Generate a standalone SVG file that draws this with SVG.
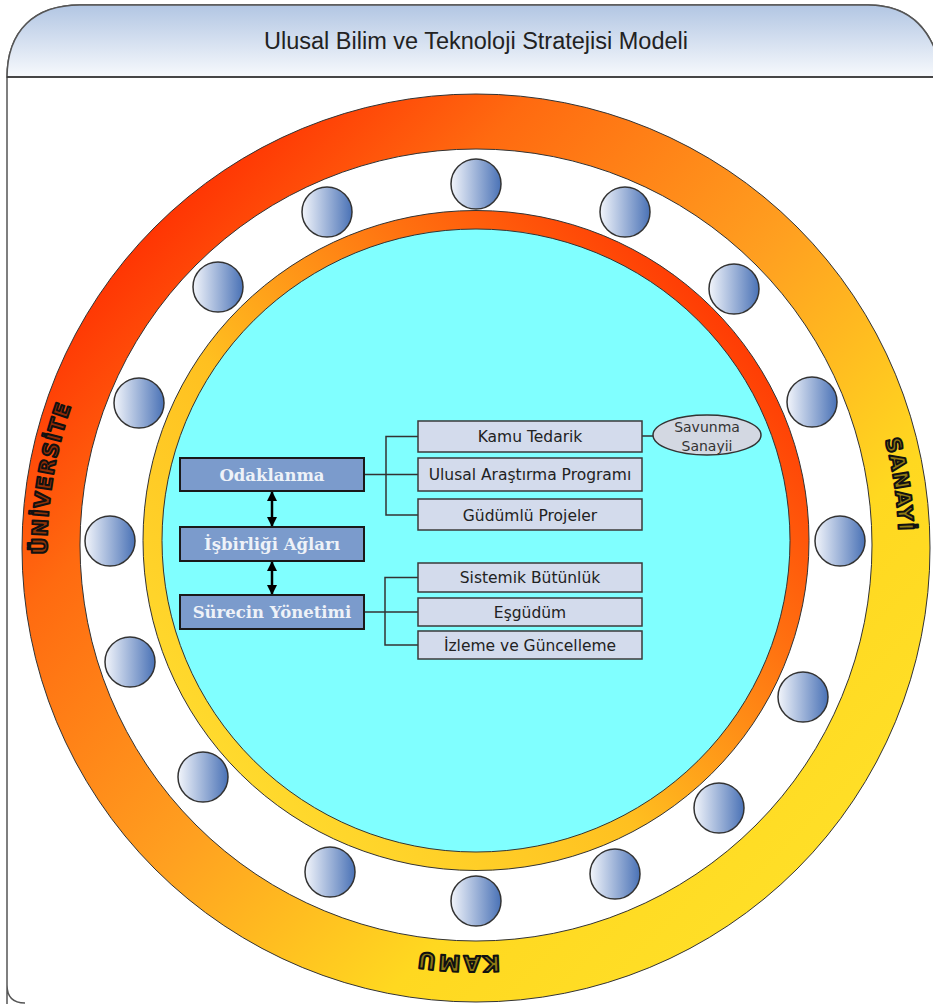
<svg xmlns="http://www.w3.org/2000/svg" width="933" height="1004" viewBox="0 0 933 1004">
<defs>
<linearGradient id="hdrG" x1="0" y1="0" x2="0" y2="1">
<stop offset="0" stop-color="#b2c6e3"/>
<stop offset="1" stop-color="#f8fafd"/>
</linearGradient>
<linearGradient id="outerG" gradientUnits="userSpaceOnUse" x1="120" y1="200" x2="830" y2="900">
<stop offset="0" stop-color="#ff2800"/>
<stop offset="0.22" stop-color="#ff6a10"/>
<stop offset="0.5" stop-color="#ffa020"/>
<stop offset="0.75" stop-color="#ffd820"/>
<stop offset="1" stop-color="#ffe028"/>
</linearGradient>
<linearGradient id="innerG" gradientUnits="userSpaceOnUse" x1="780" y1="290" x2="200" y2="820">
<stop offset="0" stop-color="#ff2a00"/>
<stop offset="0.3" stop-color="#ff7010"/>
<stop offset="0.6" stop-color="#ffc020"/>
<stop offset="1" stop-color="#ffe030"/>
</linearGradient>
<linearGradient id="ballG" x1="0" y1="0" x2="1" y2="0">
<stop offset="0" stop-color="#f2f5fb"/>
<stop offset="1" stop-color="#4a72b6"/>
</linearGradient>
<marker id="ah" viewBox="0 0 10 10" refX="9" refY="5" markerWidth="10" markerHeight="10" markerUnits="userSpaceOnUse" orient="auto-start-reverse">
<path d="M0,0 L10,5 L0,10 Z" fill="#000"/>
</marker>
<path id="pLeft" d="M47,548 A429,429 0 1,1 905,548 A429,429 0 1,1 47,548"/>
<path id="pRight" d="M53,548 A423,423 0 1,1 899,548 A423,423 0 1,1 53,548"/>
<path id="pBottom" d="M68,548 A408,408 0 1,1 884,548 A408,408 0 1,1 68,548"/>
</defs>
<style>
.frame{fill:#fff;stroke:#555;stroke-width:1.5}
.title{font-family:"Liberation Sans",Arial,sans-serif;font-size:23.5px;fill:#222;text-anchor:middle}
.ring{stroke:#333;stroke-width:1}
.ball{fill:url(#ballG);stroke:#333;stroke-width:1.5}
.ringtxt{font-family:"DejaVu Sans",sans-serif;font-weight:bold;font-size:21px;letter-spacing:1.2px;fill:#000;fill-opacity:0.45;stroke:#111;stroke-width:2;stroke-linejoin:round;text-anchor:middle}
.lbox{fill:#7b9bcc;stroke:#1a1a1a;stroke-width:2}
.ltxt{font-family:"DejaVu Serif",serif;font-weight:bold;font-size:16.5px;fill:#eef2f8;text-anchor:middle}
.rbox{fill:#d3dbec;stroke:#3a3a3a;stroke-width:1.5}
.rtxt{font-family:"DejaVu Sans",sans-serif;font-size:15.5px;fill:#222;text-anchor:middle}
.etxt{font-family:"DejaVu Sans",sans-serif;font-size:14px;fill:#333;text-anchor:middle}
.con{fill:none;stroke:#333;stroke-width:1.5}
.arr{stroke:#000;stroke-width:2.5;marker-start:url(#ah);marker-end:url(#ah)}
</style>

<g id="frame">
<path class="frame" d="M7,1010 L7,985 Q7,1003 25,1003 M7,985 L7,78 C7,30 35,5 80,5 L868,5 C910,5 935,30 942,78 L942,1010"/>
<path d="M7,77 L7,78 C7,30 35,5 80,5 L868,5 C910,5 935,30 942,77 Z" fill="url(#hdrG)" stroke="#555" stroke-width="1.5"/>
<line x1="7" y1="77" x2="942" y2="77" stroke="#333" stroke-width="1.5"/>
<text class="title" x="476" y="49">Ulusal Bilim ve Teknoloji Stratejisi Modeli</text>
</g>

<g id="outer-ring">
<path class="ring" fill="url(#outerG)" fill-rule="evenodd" d="M22,548 A454,454 0 1,1 930,548 A454,454 0 1,1 22,548 Z M80,545 A396,396 0 1,0 872,545 A396,396 0 1,0 80,545 Z"/>
<text class="ringtxt"><textPath href="#pLeft" startOffset="69.6">ÜNİVERSİTE</textPath></text>
<text class="ringtxt"><textPath href="#pRight" startOffset="1266">SANAYİ</textPath></text>
<text class="ringtxt" style="font-size:22px;letter-spacing:2.5px"><textPath href="#pBottom" startOffset="1940">KAMU</textPath></text>
</g>

<g id="balls">
<circle class="ball" cx="476" cy="184" r="25"/>
<circle class="ball" cx="327" cy="212" r="25"/>
<circle class="ball" cx="625" cy="212" r="25"/>
<circle class="ball" cx="218" cy="287" r="25"/>
<circle class="ball" cx="734" cy="289" r="25"/>
<circle class="ball" cx="139" cy="403" r="25"/>
<circle class="ball" cx="812" cy="402" r="25"/>
<circle class="ball" cx="110" cy="541" r="25"/>
<circle class="ball" cx="840" cy="541" r="25"/>
<circle class="ball" cx="130" cy="662" r="25"/>
<circle class="ball" cx="803" cy="697" r="25"/>
<circle class="ball" cx="203" cy="777" r="25"/>
<circle class="ball" cx="719" cy="808" r="25"/>
<circle class="ball" cx="330" cy="872" r="25"/>
<circle class="ball" cx="615" cy="874" r="25"/>
<circle class="ball" cx="476" cy="901" r="25"/>
</g>

<g id="inner-ring">
<ellipse class="ring" fill="url(#innerG)" cx="476" cy="540.5" rx="333" ry="330"/>
<ellipse class="ring" fill="#80ffff" cx="476" cy="540.5" rx="314" ry="311.5"/>
</g>

<g id="connectors">
<path class="con" d="M364,474.5 H418"/>
<path class="con" d="M418,436.5 H386 V515 H418"/>
<path class="con" d="M642,436 H653"/>
<path class="con" d="M364,612 H418"/>
<path class="con" d="M418,577.5 H385 V645 H418"/>
<line class="arr" x1="272" y1="492" x2="272" y2="526"/>
<line class="arr" x1="272" y1="562" x2="272" y2="594"/>
</g>

<g id="node-odaklanma">
<rect class="lbox" x="180" y="458" width="184" height="33"/>
<text class="ltxt" x="272" y="480.5">Odaklanma</text>
</g>
<g id="node-isbirligi">
<rect class="lbox" x="180" y="527" width="184" height="34"/>
<text class="ltxt" x="272" y="550">İşbirliği Ağları</text>
</g>
<g id="node-surecin">
<rect class="lbox" x="180" y="595" width="184" height="34"/>
<text class="ltxt" x="272" y="618">Sürecin Yönetimi</text>
</g>

<g id="node-kamu-tedarik">
<rect class="rbox" x="418" y="421" width="224" height="31"/>
<text class="rtxt" x="530" y="442">Kamu Tedarik</text>
</g>
<g id="node-ulusal-arastirma">
<rect class="rbox" x="418" y="458" width="224" height="33"/>
<text class="rtxt" x="530" y="480">Ulusal Araştırma Programı</text>
</g>
<g id="node-gudumlu">
<rect class="rbox" x="418" y="499" width="224" height="31"/>
<text class="rtxt" x="530" y="520.5">Güdümlü Projeler</text>
</g>
<g id="node-savunma">
<ellipse cx="707" cy="435" rx="54" ry="20" fill="#d3d8e2" stroke="#333" stroke-width="1.5"/>
<text class="etxt" x="707" y="432">Savunma</text>
<text class="etxt" x="707" y="450.5">Sanayii</text>
</g>
<g id="node-sistemik">
<rect class="rbox" x="418" y="563" width="224" height="29"/>
<text class="rtxt" x="530" y="583">Sistemik Bütünlük</text>
</g>
<g id="node-esgudum">
<rect class="rbox" x="418" y="598" width="224" height="28"/>
<text class="rtxt" x="530" y="617.5">Eşgüdüm</text>
</g>
<g id="node-izleme">
<rect class="rbox" x="418" y="631" width="224" height="28"/>
<text class="rtxt" x="530" y="650.5">İzleme ve Güncelleme</text>
</g>
</svg>
